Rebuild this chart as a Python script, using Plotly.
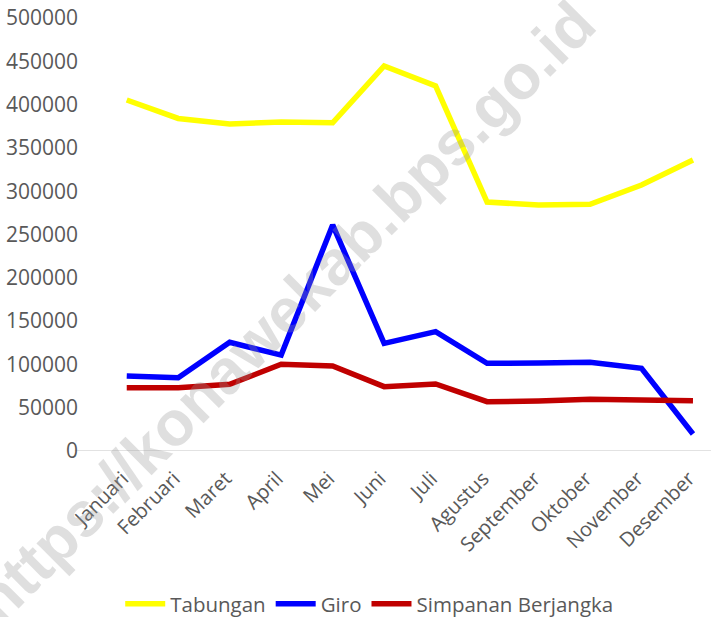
import plotly.graph_objects as go

MONTHS = ["Januari", "Februari", "Maret", "April", "Mei", "Juni", "Juli",
          "Agustus", "September", "Oktober", "November", "Desember"]

TABUNGAN = [405300, 384000, 377600, 380000, 379000, 444600, 421500,
            287500, 284000, 284900, 307200, 336000]
GIRO = [86600, 84600, 125500, 110800, 261000, 124300, 137800,
        101200, 101600, 102400, 95500, 19600]
SIMPANAN = [73100, 73100, 77000, 100100, 98100, 74300, 77400,
            56900, 57700, 59700, 58900, 58100]

Y_TICKS = [0, 50000, 100000, 150000, 200000, 250000, 300000, 350000, 400000, 450000, 500000]

FONT = "Open Sans, Noto Sans, sans-serif"
GREY_TEXT = "#595959"

fig = go.Figure()
for name, vals, color in [("Tabungan", TABUNGAN, "#FFFF00"),
                          ("Giro", GIRO, "#0000FF"),
                          ("Simpanan Berjangka", SIMPANAN, "#C00000")]:
    fig.add_trace(go.Scatter(x=MONTHS, y=vals, name=name, mode="lines",
                             line={"color": color, "width": 5.5}))

# zero baseline (extends a little left of plot area, as in the source)
fig.add_shape(type="line", xref="paper", yref="y", x0=-0.043, x1=1, y0=0, y1=0,
              line={"color": "#D9D9D9", "width": 1.5}, layer="below")

# watermark
fig.add_annotation(text="<b>https://konawekab.bps.go.id</b>", xref="paper", yref="paper",
                   x=0.30, y=0.32, xanchor="center", yanchor="middle", showarrow=False,
                   textangle=-45,
                   font={"family": "Liberation Sans, Arial, sans-serif", "size": 63,
                         "color": "rgba(150,150,150,0.3)"})

fig.update_layout(
    width=711, height=617,
    margin={"l": 101, "r": 0, "t": 18, "b": 166, "autoexpand": False},
    plot_bgcolor="white", paper_bgcolor="white",
    font={"family": FONT, "color": GREY_TEXT, "size": 20},
    showlegend=True,
    legend={"orientation": "h", "xref": "container", "yref": "container",
            "x": 0.52, "xanchor": "center", "y": 0.021, "yanchor": "middle",
            "font": {"size": 20.5, "color": GREY_TEXT}, "itemwidth": 40},
    xaxis={"range": [-0.5, 11.35], "showgrid": False, "zeroline": False,
           "showline": False, "tickangle": -45, "tickfont": {"size": 20},
           "ticks": "", "fixedrange": True, "automargin": False,
           "ticklabelstandoff": 11, "ticklabelshift": -4},
    yaxis={"range": [0, 500000], "tickvals": Y_TICKS, "showgrid": False,
           "zeroline": False, "showline": False, "ticks": "", "automargin": False,
           "tickfont": {"size": 21}, "ticklabelstandoff": 22, "tickformat": "d"},
)

fig.write_html("out.html", config={"displayModeBar": False},
               post_script="document.body.style.margin='0';document.body.style.padding='0';")
